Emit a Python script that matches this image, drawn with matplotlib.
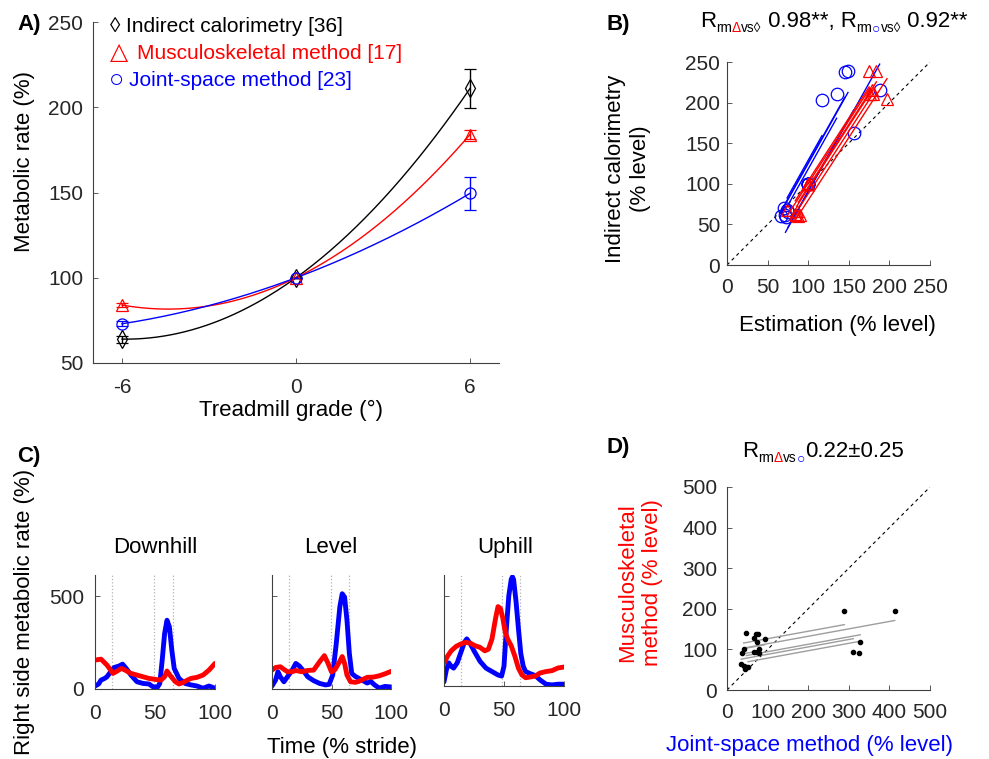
import numpy as np
import matplotlib
matplotlib.use("Agg")
import matplotlib.pyplot as plt

plt.rcParams['font.family'] = ['Liberation Sans', 'DejaVu Sans']
plt.rcParams['axes.unicode_minus'] = False

W, H = 989, 759
RED = '#ff0000'
BLUE = '#0000ff'
AXC = '#404040'
TXT = '#262626'

# ---- panel A: group means (% of level walking)
grade = [-6, 0, 6]
ic_mean = [64, 100, 211]
ic_err = [2, 0, 11.5]
ms_mean = [84, 100, 184]
ms_err = [1, 0, 2.5]
js_mean = [73, 100, 149.5]
js_err = [1.5, 0, 9.5]

# ---- panel B: per-subject estimates vs indirect calorimetry (downhill / uphill, level = 100)
js_down_x = [66, 70, 74, 73, 72, 75]
js_down_y = [60, 70, 68, 59, 62, 65]
js_up_x = [145, 149, 117, 135, 188, 156]
js_up_y = [238, 239, 203, 210, 216, 163]
ms_down_x = [84, 88, 86, 90, 85, 74]
ms_down_y = [63, 60, 66, 61, 62, 68]
ms_up_x = [175, 184, 178, 180, 197, 176]
ms_up_y = [239, 239, 215, 210, 204, 211]
level_pct = 100

# ---- panel C: right side metabolic rate over the stride
t_dh_js = [0, 3, 5, 8, 10, 13, 16, 20, 23, 26, 30, 35, 40, 45, 48, 52, 54, 56, 58, 60, 62, 64, 66, 70, 75, 80, 85, 90, 95, 100]
dh_js = [16, 27, 48, 57, 66, 93, 116, 124, 134, 111, 75, 39, 30, 27, 13, 9, 30, 156, 299, 371, 335, 210, 111, 57, 30, 22, 16, 4, 16, 4]
t_dh_ms = [0, 5, 10, 15, 18, 22, 25, 30, 35, 40, 45, 50, 55, 58, 60, 63, 67, 70, 73, 77, 80, 85, 90, 95, 100]
dh_ms = [156, 161, 129, 84, 95, 111, 102, 84, 75, 66, 57, 52, 48, 66, 97, 70, 39, 27, 34, 48, 57, 63, 75, 102, 138]

t_lv_js = [0, 3, 5, 7, 10, 13, 17, 20, 23, 27, 30, 35, 40, 45, 48, 51, 54, 57, 59, 61, 63, 65, 67, 70, 75, 80, 83, 86, 90, 95, 100]
lv_js = [16, 48, 93, 66, 39, 66, 102, 138, 124, 93, 66, 45, 30, 22, 25, 75, 245, 443, 514, 496, 371, 192, 84, 68, 50, 32, 41, 23, 5, 14, 11]
t_lv_ms = [0, 3, 7, 10, 13, 17, 20, 25, 30, 35, 40, 44, 47, 50, 53, 57, 59, 61, 63, 66, 70, 73, 77, 80, 85, 90, 95, 100]
lv_ms = [102, 116, 120, 106, 93, 93, 100, 93, 100, 102, 147, 180, 140, 92, 105, 150, 175, 138, 75, 39, 36, 41, 54, 63, 64, 71, 82, 95]

t_up_js = [0, 2, 4, 6, 8, 11, 14, 17, 19, 22, 25, 30, 35, 40, 45, 48, 50, 52, 54, 56, 57, 58, 60, 62, 64, 66, 68, 72, 76, 80, 85, 90, 95, 100]
up_js = [23, 90, 128, 109, 99, 128, 185, 242, 261, 233, 195, 137, 99, 80, 61, 55, 110, 320, 500, 590, 605, 590, 470, 320, 180, 110, 80, 68, 58, 34, 10, 6, 10, 10]
t_up_ms = [0, 3, 6, 10, 14, 18, 22, 26, 30, 34, 37, 40, 43, 45, 47, 49, 51, 53, 56, 59, 62, 65, 68, 72, 76, 80, 85, 90, 95, 100]
up_ms = [128, 166, 195, 219, 233, 242, 237, 223, 214, 195, 204, 261, 376, 440, 430, 376, 300, 261, 223, 166, 99, 61, 46, 50, 55, 72, 80, 85, 100, 105]

events_dh = [14, 49, 65]
events_lv = [14, 49.5, 64.5]
events_up = [14, 48, 63]

# ---- panel D: musculoskeletal vs joint-space (% level), per subject
d_js = [289, 47.5, 41, 413, 72, 44, 328, 77, 47.5, 311, 65.5, 35, 324, 75, 52, 92.6, 42.6, 65.5, 80, 36, 74, 80]
d_ms = [195, 139.6, 59, 195, 138, 51, 118, 137, 56, 93, 127, 64, 90, 117, 56, 125, 102, 93, 102, 90, 93, 92]
d_subj = [1, 1, 1, 2, 2, 2, 3, 3, 3, 4, 4, 4, 5, 5, 5, 6, 6, 6, 7, 7, 7, 7]


def box(l, t, r, b):
    return [l / W, 1 - b / H, (r - l) / W, (b - t) / H]


def ftext(x, y, s, **kw):
    return fig.text(x / W, 1 - y / H, s, **kw)


def style(ax, xpad, ypad):
    for s in ['top', 'right']:
        ax.spines[s].set_visible(False)
    for s in ['left', 'bottom']:
        ax.spines[s].set_color(AXC)
        ax.spines[s].set_linewidth(0.8)
    ax.tick_params(direction='in', length=3.5, width=0.6, color=AXC,
                   labelcolor=TXT, labelsize=15)
    ax.tick_params(axis='x', pad=xpad)
    ax.tick_params(axis='y', pad=ypad)


def rm_lines(xs, ys):
    # repeated-measures correlation: common slope, one line per subject
    sxy = 0.0
    sxx = 0.0
    for x, y in zip(xs, ys):
        x = np.asarray(x, float)
        y = np.asarray(y, float)
        sxy += ((x - x.mean()) * (y - y.mean())).sum()
        sxx += ((x - x.mean()) ** 2).sum()
    b = sxy / sxx
    segs = []
    for x, y in zip(xs, ys):
        xx = np.array([min(x), max(x)])
        segs.append((xx, np.mean(y) + b * (xx - np.mean(x))))
    return segs


def rich(x, y, parts, size):
    r = fig.canvas.get_renderer()
    for s, c, sub in parts:
        t = ftext(x, y + (5 if sub else 0), s, color=c,
                  fontsize=size * 0.62 if sub else size,
                  ha='left', va='baseline')
        x += t.get_window_extent(r).width


fig = plt.figure(figsize=(W / 100, H / 100), dpi=100)

# ================= A
axA = fig.add_axes(box(93, 22, 499, 363))
xs = np.linspace(-6, 6, 200)
for mean, err, col, mk, ms in [(ic_mean, ic_err, 'k', 'd', 9),
                               (ms_mean, ms_err, RED, '^', 9),
                               (js_mean, js_err, BLUE, 'o', 8)]:
    p = np.polyfit(grade, mean, 2)
    axA.plot(xs, np.polyval(p, xs), color=col, lw=1)
    axA.errorbar(grade, mean, yerr=err, fmt=mk, color=col, mfc='none',
                 ms=ms, mew=0.9, elinewidth=1, capsize=4)
axA.set_xlim(-7, 7)
axA.set_ylim(50, 250)
axA.set_xticks([-6, 0, 6])
axA.set_yticks([50, 100, 150, 200, 250])
style(axA, 11, 7)

ftext(110, 32, '◊', color='k', fontsize=15)
ftext(126, 32, 'Indirect calorimetry [36]', color='k', fontsize=15)
ftext(110, 59, '△', color=RED, fontsize=17)
ftext(137, 59, 'Musculoskeletal method [17]', color=RED, fontsize=15)
ftext(109, 87, '○', color=BLUE, fontsize=18)
ftext(129, 86, 'Joint-space method [23]', color=BLUE, fontsize=15)

ftext(25, 162, 'Metabolic rate (%)', rotation=90, ha='center', va='center', fontsize=16)
ftext(291, 410, 'Treadmill grade (°)', ha='center', va='center', fontsize=16)
ftext(17, 30, 'A)', fontsize=16, fontweight='bold')

# ================= B
axB = fig.add_axes(box(727, 62, 930, 265))
axB.plot([0, 250], [0, 250], color='k', ls='--', lw=0.8, dashes=(3, 3))
for dx, dy, ux, uy, col, mk in [(js_down_x, js_down_y, js_up_x, js_up_y, BLUE, 'o'),
                                (ms_down_x, ms_down_y, ms_up_x, ms_up_y, RED, '^')]:
    sx = [[a, level_pct, b] for a, b in zip(dx, ux)]
    sy = [[a, level_pct, b] for a, b in zip(dy, uy)]
    for xx, yy in rm_lines(sx, sy):
        axB.plot(xx, yy, color=col, lw=1.0)
    allx = [v for s in sx for v in s]
    ally = [v for s in sy for v in s]
    axB.plot(allx, ally, ls='none', marker=mk, mfc='none', mec=col, ms=9, mew=0.9)
axB.set_xlim(0, 250)
axB.set_ylim(0, 250)
axB.set_xticks(range(0, 251, 50))
axB.set_yticks(range(0, 251, 50))
style(axB, 9, 5)

rich(700, 27, [('R', 'k', False), ('rm', 'k', True), ('Δ', RED, True), ('vs◊', 'k', True),
               (' 0.98**, R', 'k', False), ('rm', 'k', True), ('○', BLUE, True),
               ('vs◊', 'k', True), (' 0.92**', 'k', False)], 16)
ftext(628, 169, 'Indirect calorimetry\n(% level)', rotation=90, ha='center', va='center',
      fontsize=16, linespacing=1.2)
ftext(837, 325, 'Estimation (% level)', ha='center', va='center', fontsize=16)
ftext(607, 30, 'B)', fontsize=16, fontweight='bold')

# ================= C
c_sets = [
    (box(95, 575, 215, 689), 'Downhill', 155, t_dh_js, dh_js, t_dh_ms, dh_ms, events_dh, True),
    (box(272, 575, 391, 689), 'Level', 331, t_lv_js, lv_js, t_lv_ms, lv_ms, events_lv, False),
    (box(444, 575, 564, 686), 'Uphill', 505, t_up_js, up_js, t_up_ms, up_ms, events_up, False),
]
for pos, name, tx, tj, vj, tm, vm, ev, ylab in c_sets:
    ax = fig.add_axes(pos)
    for e in ev:
        ax.axvline(e, color='0.7', ls=':', lw=0.9)
    ax.plot(tj, vj, color=BLUE, lw=3.5, solid_capstyle='round')
    ax.plot(tm, vm, color=RED, lw=3.5, solid_capstyle='round')
    ax.set_xlim(0, 100)
    ax.set_ylim(0, 615)
    ax.set_xticks([0, 50, 100])
    ax.set_yticks([0, 500])
    style(ax, 11, 8)
    if not ylab:
        ax.tick_params(axis='y', labelleft=False)
    ftext(tx, 553, name, ha='center', va='baseline', fontsize=16)

ftext(25, 612, 'Right side metabolic rate (%)', rotation=90, ha='center', va='center', fontsize=16)
ftext(342, 748, 'Time (% stride)', ha='center', va='center', fontsize=16)
ftext(17, 462, 'C)', fontsize=16, fontweight='bold')

# ================= D
axD = fig.add_axes(box(727, 487, 930, 690))
axD.plot([0, 500], [0, 500], color='k', ls='--', lw=0.8, dashes=(3, 3))
subs = sorted(set(d_subj))
sx = [[x for x, s in zip(d_js, d_subj) if s == k] for k in subs]
sy = [[y for y, s in zip(d_ms, d_subj) if s == k] for k in subs]
for xx, yy in rm_lines(sx, sy):
    axD.plot(xx, yy, color='0.62', lw=1)
axD.plot(d_js, d_ms, ls='none', marker='o', color='k', ms=3)
axD.set_xlim(0, 500)
axD.set_ylim(0, 500)
axD.set_xticks(range(0, 501, 100))
axD.set_yticks(range(0, 501, 100))
style(axD, 9, 7)

rich(742, 457, [('R', 'k', False), ('rm', 'k', True), ('Δ', RED, True), ('vs', 'k', True),
                ('○', BLUE, True), ('0.22±0.25', 'k', False)], 16)
ftext(640, 583, 'Musculoskeletal\nmethod (% level)', rotation=90, ha='center', va='center',
      fontsize=16, color=RED, linespacing=1.2)
ftext(810, 745, 'Joint-space method (% level)', ha='center', va='center', fontsize=16, color=BLUE)
ftext(607, 453, 'D)', fontsize=16, fontweight='bold')

fig.savefig('out.png', dpi=100)
